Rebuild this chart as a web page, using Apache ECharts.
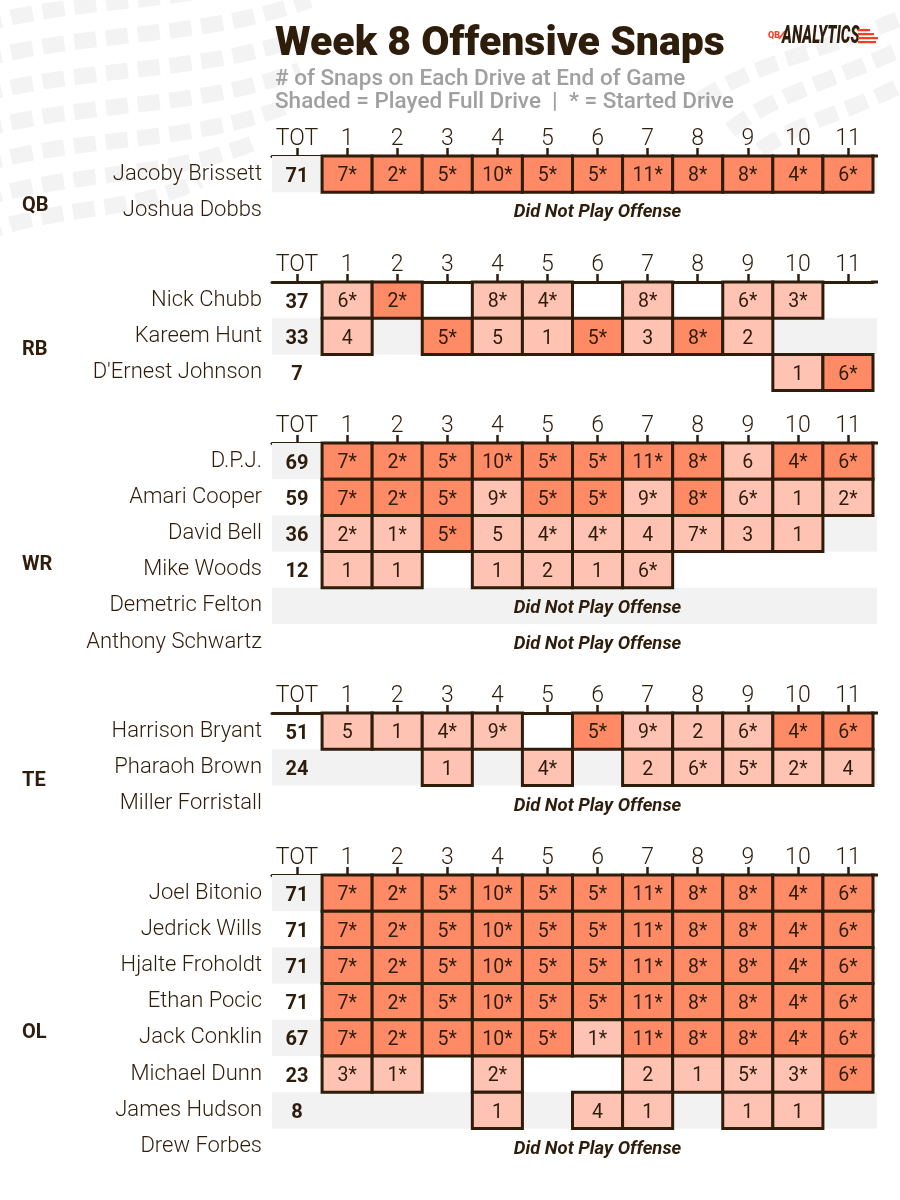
<!DOCTYPE html>
<html><head><meta charset="utf-8">
<script src="https://cdn.jsdelivr.net/npm/echarts@6/dist/echarts.min.js"></script>
<style>html,body{margin:0;padding:0;background:#fff}#c{width:900px;height:1200px}</style>
</head><body><div id="c"></div>
<script>
// ---------- DATA ----------
const drives = ['TOT','1','2','3','4','5','6','7','8','9','10','11'];

const qbPlayers = ['Jacoby Brissett','Joshua Dobbs'];
const qbTotals  = [71, null];
const qbSnaps   = [[7,2,5,10,5,5,11,8,8,4,6], null];
const qbStarted = [[1,1,1,1,1,1,1,1,1,1,1], null];
const qbFull    = [[1,1,1,1,1,1,1,1,1,1,1], null];

const rbPlayers = ['Nick Chubb','Kareem Hunt',"D'Ernest Johnson"];
const rbTotals  = [37, 33, 7];
const rbSnaps   = [[6,2,null,8,4,null,8,null,6,3,null],
                   [4,null,5,5,1,5,3,8,2,null,null],
                   [null,null,null,null,null,null,null,null,null,1,6]];
const rbStarted = [[1,1,0,1,1,0,1,0,1,1,0],
                   [0,0,1,0,0,1,0,1,0,0,0],
                   [0,0,0,0,0,0,0,0,0,0,1]];
const rbFull    = [[0,1,0,0,0,0,0,0,0,0,0],
                   [0,0,1,0,0,1,0,1,0,0,0],
                   [0,0,0,0,0,0,0,0,0,0,1]];

const wrPlayers = ['D.P.J.','Amari Cooper','David Bell','Mike Woods','Demetric Felton','Anthony Schwartz'];
const wrTotals  = [69, 59, 36, 12, null, null];
const wrSnaps   = [[7,2,5,10,5,5,11,8,6,4,6],
                   [7,2,5,9,5,5,9,8,6,1,2],
                   [2,1,5,5,4,4,4,7,3,1,null],
                   [1,1,null,1,2,1,6,null,null,null,null],
                   null, null];
const wrStarted = [[1,1,1,1,1,1,1,1,0,1,1],
                   [1,1,1,1,1,1,1,1,1,0,1],
                   [1,1,1,0,1,1,0,1,0,0,0],
                   [0,0,0,0,0,0,1,0,0,0,0],
                   null, null];
const wrFull    = [[1,1,1,1,1,1,1,1,0,1,1],
                   [1,1,1,0,1,1,0,1,0,0,0],
                   [0,0,1,0,0,0,0,0,0,0,0],
                   [0,0,0,0,0,0,0,0,0,0,0],
                   null, null];

const tePlayers = ['Harrison Bryant','Pharaoh Brown','Miller Forristall'];
const teTotals  = [51, 24, null];
const teSnaps   = [[5,1,4,9,null,5,9,2,6,4,6],
                   [null,null,1,null,4,null,2,6,5,2,4],
                   null];
const teStarted = [[0,0,1,1,0,1,1,0,1,1,1],
                   [0,0,0,0,1,0,0,1,1,1,0],
                   null];
const teFull    = [[0,0,0,0,0,1,0,0,0,1,1],
                   [0,0,0,0,0,0,0,0,0,0,0],
                   null];

const olPlayers = ['Joel Bitonio','Jedrick Wills','Hjalte Froholdt','Ethan Pocic','Jack Conklin','Michael Dunn','James Hudson','Drew Forbes'];
const olTotals  = [71, 71, 71, 71, 67, 23, 8, null];
const olSnaps   = [[7,2,5,10,5,5,11,8,8,4,6],
                   [7,2,5,10,5,5,11,8,8,4,6],
                   [7,2,5,10,5,5,11,8,8,4,6],
                   [7,2,5,10,5,5,11,8,8,4,6],
                   [7,2,5,10,5,1,11,8,8,4,6],
                   [3,1,null,2,null,null,2,1,5,3,6],
                   [null,null,null,1,null,4,1,null,1,1,null],
                   null];
const olStarted = [[1,1,1,1,1,1,1,1,1,1,1],
                   [1,1,1,1,1,1,1,1,1,1,1],
                   [1,1,1,1,1,1,1,1,1,1,1],
                   [1,1,1,1,1,1,1,1,1,1,1],
                   [1,1,1,1,1,1,1,1,1,1,1],
                   [1,1,0,1,0,0,0,0,1,1,1],
                   [0,0,0,0,0,0,0,0,0,0,0],
                   null];
const olFull    = [[1,1,1,1,1,1,1,1,1,1,1],
                   [1,1,1,1,1,1,1,1,1,1,1],
                   [1,1,1,1,1,1,1,1,1,1,1],
                   [1,1,1,1,1,1,1,1,1,1,1],
                   [1,1,1,1,1,0,1,1,1,1,1],
                   [0,0,0,0,0,0,0,0,0,0,1],
                   [0,0,0,0,0,0,0,0,0,0,0],
                   null];

const dnpText = 'Did Not Play Offense';

// ---------- STYLE ----------
const BROWN = '#2f1d0c';
const DARK = '#ff8a66';
const LIGHT = '#ffc3b3';
const BAND = '#f2f2f2';
const FONT = 'Roboto, "Open Sans", sans-serif';
const ROW_H = 36.2;
const GRID_LEFT = 272, GRID_W = 601;
const TY = 2.5; // text vertical nudge

const groups = [
  {label:'QB', players:qbPlayers, totals:qbTotals, snaps:qbSnaps, started:qbStarted, full:qbFull, top:156, shaded:[0]},
  {label:'RB', players:rbPlayers, totals:rbTotals, snaps:rbSnaps, started:rbStarted, full:rbFull, top:282, shaded:[1]},
  {label:'WR', players:wrPlayers, totals:wrTotals, snaps:wrSnaps, started:wrStarted, full:wrFull, top:443, shaded:[0,2,4]},
  {label:'TE', players:tePlayers, totals:teTotals, snaps:teSnaps, started:teStarted, full:teFull, top:713, shaded:[1]},
  {label:'OL', players:olPlayers, totals:olTotals, snaps:olSnaps, started:olStarted, full:olFull, top:875, shaded:[0,2,4,6]}
];

const grid = [], xAxis = [], yAxis = [], series = [];

groups.forEach((g, gi) => {
  const n = g.players.length;
  grid.push({left: GRID_LEFT, top: g.top, width: GRID_W, height: n * ROW_H, containLabel: false});
  xAxis.push({
    type: 'category', gridIndex: gi, data: drives, position: 'top',
    axisLine: {show: true, lineStyle: {color: BROWN, width: 3}},
    axisTick: {show: true, alignWithLabel: true, length: 8, lineStyle: {color: BROWN, width: 2.5}},
    axisLabel: {color: BROWN, fontSize: 23, fontWeight: 300, fontFamily: FONT, margin: 5, interval: 0},
    splitLine: {show: false}
  });
  yAxis.push({
    type: 'category', gridIndex: gi, data: g.players, inverse: true,
    axisLine: {show: false}, axisTick: {show: false}, splitLine: {show: false},
    axisLabel: {color: BROWN, fontSize: 22, fontWeight: 300, fontFamily: FONT, margin: 10, interval: 0,
                padding: [9, 0, 0, 0]}
  });

  // shaded bands
  series.push({
    type: 'custom', xAxisIndex: gi, yAxisIndex: gi, z: 1, silent: true,
    data: g.shaded.map(r => [0, r]),
    renderItem: (params, api) => {
      const c = api.coord([0, api.value(1)]);
      const s = api.size([1, 1]);
      const cs = params.coordSys;
      return {type: 'rect', shape: {x: cs.x, y: c[1] - s[1] / 2, width: cs.width + 4, height: s[1]},
              style: {fill: BAND}};
    }
  });

  // axis line extension to the right
  series.push({
    type: 'custom', xAxisIndex: gi, yAxisIndex: gi, z: 5, silent: true,
    data: [[11, 0]],
    renderItem: (params, api) => {
      const cs = params.coordSys;
      return {type: 'line', shape: {x1: cs.x + cs.width - 2, y1: cs.y, x2: cs.x + cs.width + 5, y2: cs.y},
              style: {stroke: BROWN, lineWidth: 3}};
    }
  });

  // drive cells
  const cells = [];
  g.snaps.forEach((row, ri) => {
    if (!row) return;
    row.forEach((v, di) => {
      if (v == null) return;
      cells.push([di + 1, ri, v, g.started[ri][di], g.full[ri][di]]);
    });
  });
  series.push({
    type: 'custom', xAxisIndex: gi, yAxisIndex: gi, z: 3, silent: true,
    data: cells,
    renderItem: (params, api) => {
      const c = api.coord([api.value(0), api.value(1)]);
      const s = api.size([1, 1]);
      const txt = api.value(2) + (api.value(3) ? '*' : '');
      return {type: 'group', children: [
        {type: 'rect', shape: {x: c[0] - s[0] / 2, y: c[1] - s[1] / 2, width: s[0], height: s[1]},
         style: {fill: api.value(4) ? DARK : LIGHT, stroke: BROWN, lineWidth: 3}},
        {type: 'text', x: c[0], y: c[1] + TY, z2: 5,
         style: {text: txt, fill: BROWN, font: '400 19.5px ' + FONT, align: 'center', verticalAlign: 'middle'}}
      ]};
    }
  });

  // totals
  const tots = [];
  g.totals.forEach((t, ri) => { if (t != null) tots.push([0, ri, t]); });
  series.push({
    type: 'custom', xAxisIndex: gi, yAxisIndex: gi, z: 4, silent: true,
    data: tots,
    renderItem: (params, api) => {
      const c = api.coord([0, api.value(1)]);
      return {type: 'text', x: c[0], y: c[1] + TY,
              style: {text: String(api.value(2)), fill: BROWN, font: '700 20px ' + FONT, align: 'center', verticalAlign: 'middle'}};
    }
  });

  // did not play rows
  const dnp = [];
  g.snaps.forEach((row, ri) => { if (!row) dnp.push([6, ri]); });
  series.push({
    type: 'custom', xAxisIndex: gi, yAxisIndex: gi, z: 4, silent: true,
    data: dnp,
    renderItem: (params, api) => {
      const c = api.coord([api.value(0), api.value(1)]);
      return {type: 'text', x: c[0], y: c[1] + TY,
              style: {text: dnpText, fill: BROWN, font: 'italic 700 18.5px ' + FONT, align: 'center', verticalAlign: 'middle'}};
    }
  });

  // group label
  series.push({
    type: 'custom', xAxisIndex: gi, yAxisIndex: gi, z: 4, silent: true,
    data: [[0, (n - 1) / 2]],
    renderItem: (params, api) => {
      const a = api.coord([0, 0]), b = api.coord([0, n - 1]);
      return {type: 'text', x: 22, y: (a[1] + b[1]) / 2 + 11 + TY,
              style: {text: g.label, fill: BROWN, font: '700 20px ' + FONT, align: 'left', verticalAlign: 'middle'}};
    }
  });
});

// decorative background streaks + logo
const deco = [];
const streaks = [
  [-20, 60, 90, 30, 200, 40, 310, 0],
  [-20, 95, 90, 65, 200, 75, 310, 35],
  [-20, 130, 90, 100, 200, 110, 300, 70],
  [-20, 165, 80, 135, 190, 145, 290, 105],
  [-20, 200, 70, 170, 170, 180, 260, 140],
  [-20, 235, 50, 205, 130, 215, 200, 180],
  [-20, 25, 90, -5, 200, 5, 310, -35],
  [730, 130, 780, 90, 840, 80, 920, 40],
  [700, 100, 760, 60, 830, 50, 920, 10],
  [760, 150, 800, 120, 860, 110, 920, 75]
];
streaks.forEach(s => {
  deco.push({type: 'bezierCurve', silent: true, z: -10,
    shape: {x1: s[0], y1: s[1], cpx1: s[2], cpy1: s[3], cpx2: s[4], cpy2: s[5], x2: s[6], y2: s[7]},
    style: {stroke: '#f3f3f3', lineWidth: 16, lineDash: [22, 10], fill: null}});
});
deco.push({type: 'text', x: 768, y: 36, z: 10,
  style: {text: 'QB', fill: '#ff3c1f', font: '900 9px ' + FONT, verticalAlign: 'middle'}});
deco.push({type: 'line', z: 10, shape: {x1: 779, y1: 39, x2: 785, y2: 31}, style: {stroke: '#ff3c1f', lineWidth: 1.5}});
deco.push({type: 'text', x: 782, y: 37, z: 10, scaleX: 0.6,
  style: {text: 'ANALYTICS', fill: BROWN, font: 'italic 900 25px ' + FONT, verticalAlign: 'middle'}});
[[858, 29, 12], [858, 33, 16], [858, 37, 20], [858, 41, 18]].forEach(r => {
  deco.push({type: 'rect', z: 10, shape: {x: r[0], y: r[1], width: r[2], height: 2.2}, style: {fill: '#ff3c1f'}});
});

const chart = echarts.init(document.getElementById('c'), null, {renderer: 'canvas'});
chart.setOption({
  backgroundColor: '#ffffff',
  animation: false,
  title: {
    text: 'Week 8 Offensive Snaps', left: 275, top: 24, padding: 0,
    textStyle: {color: BROWN, fontSize: 41, fontWeight: 900, fontFamily: FONT},
    subtext: '# of Snaps on Each Drive at End of Game\nShaded = Played Full Drive  |  * = Started Drive',
    subtextStyle: {color: '#a0a0a0', fontSize: 22.5, fontWeight: 500, fontFamily: FONT, lineHeight: 23},
    itemGap: 3
  },
  graphic: deco,
  grid, xAxis, yAxis, series
});
</script></body></html>
